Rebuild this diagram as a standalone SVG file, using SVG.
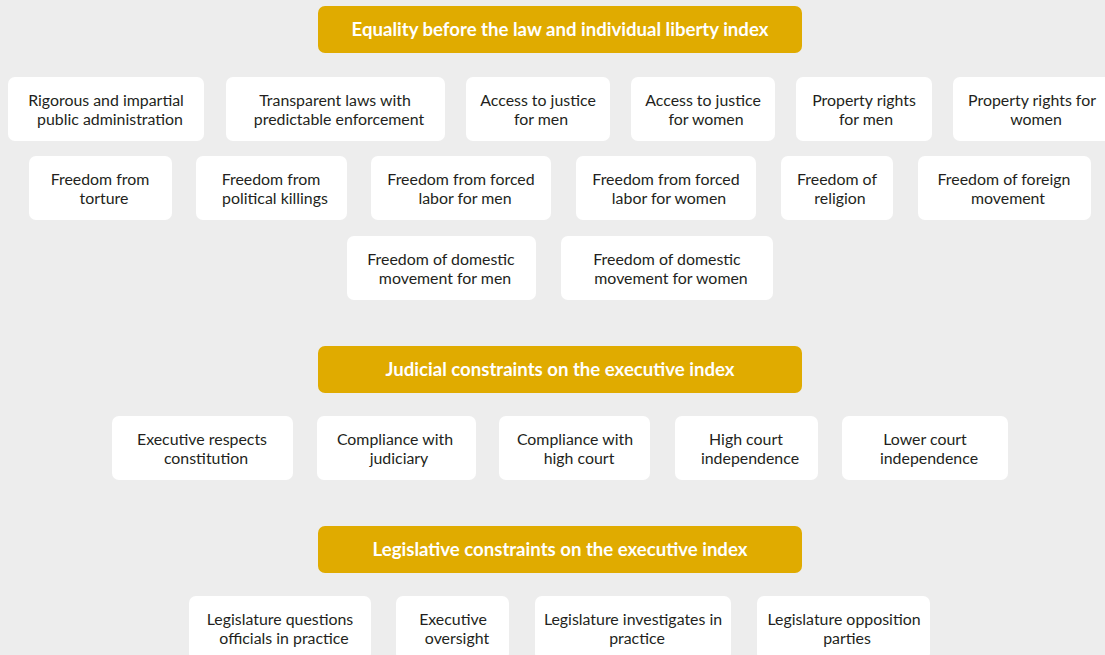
<svg xmlns="http://www.w3.org/2000/svg" width="1105" height="655" viewBox="0 0 1105 655">
<style>
.bg{fill:#ededed}
.hd rect{fill:#e0ab00}
.hd text{fill:#ffffff;font-family:Lato,"Open Sans","Liberation Sans",sans-serif;font-weight:bold;font-size:18.6px;text-anchor:middle}
.nd rect{fill:#ffffff}
.nd text{fill:#231f20;font-family:Lato,"Open Sans","Liberation Sans",sans-serif;font-size:15.9px;text-anchor:middle}
</style>
<rect class="bg" x="0" y="0" width="1105" height="655"/>
<g id="connectors"/>
<g id="h1" class="hd"><rect x="318" y="6" width="484" height="47" rx="7"/><text x="560" y="36">Equality before the law and individual liberty index</text></g>
<g id="h2" class="hd"><rect x="318" y="346" width="484" height="47" rx="7"/><text x="560" y="376">Judicial constraints on the executive index</text></g>
<g id="h3" class="hd"><rect x="318" y="526" width="484" height="47" rx="7"/><text x="560" y="556">Legislative constraints on the executive index</text></g>

<g id="n1" class="nd"><rect x="8" y="77" width="196" height="64" rx="7"/><text x="106" y="105.5">Rigorous and impartial</text><text x="110" y="124.5">public administration</text></g>
<g id="n2" class="nd"><rect x="226" y="77" width="219" height="64" rx="7"/><text x="335" y="105.5">Transparent laws with</text><text x="339" y="124.5">predictable enforcement</text></g>
<g id="n3" class="nd"><rect x="466" y="77" width="144" height="64" rx="7"/><text x="538" y="105.5">Access to justice</text><text x="541" y="124.5">for men</text></g>
<g id="n4" class="nd"><rect x="631" y="77" width="144" height="64" rx="7"/><text x="703" y="105.5">Access to justice</text><text x="706" y="124.5">for women</text></g>
<g id="n5" class="nd"><rect x="796" y="77" width="136" height="64" rx="7"/><text x="864" y="105.5">Property rights</text><text x="866" y="124.5">for men</text></g>
<g id="n6" class="nd"><rect x="953" y="77" width="166" height="64" rx="7"/><text x="1032" y="105.5">Property rights for</text><text x="1036" y="124.5">women</text></g>

<g id="n7" class="nd"><rect x="29" y="156" width="143" height="64" rx="7"/><text x="100" y="184.5">Freedom from</text><text x="104" y="203.5">torture</text></g>
<g id="n8" class="nd"><rect x="196" y="156" width="151" height="64" rx="7"/><text x="271" y="184.5">Freedom from</text><text x="275" y="203.5">political killings</text></g>
<g id="n9" class="nd"><rect x="371" y="156" width="180" height="64" rx="7"/><text x="461" y="184.5">Freedom from forced</text><text x="465" y="203.5">labor for men</text></g>
<g id="n10" class="nd"><rect x="576" y="156" width="180" height="64" rx="7"/><text x="666" y="184.5">Freedom from forced</text><text x="669" y="203.5">labor for women</text></g>
<g id="n11" class="nd"><rect x="781" y="156" width="112" height="64" rx="7"/><text x="837" y="184.5">Freedom of</text><text x="840" y="203.5">religion</text></g>
<g id="n12" class="nd"><rect x="918" y="156" width="173" height="64" rx="7"/><text x="1004" y="184.5">Freedom of foreign</text><text x="1008" y="203.5">movement</text></g>

<g id="n13" class="nd"><rect x="347" y="236" width="189" height="64" rx="7"/><text x="441" y="264.5">Freedom of domestic</text><text x="445" y="283.5">movement for men</text></g>
<g id="n14" class="nd"><rect x="561" y="236" width="212" height="64" rx="7"/><text x="667" y="264.5">Freedom of domestic</text><text x="671" y="283.5">movement for women</text></g>

<g id="n15" class="nd"><rect x="112" y="416" width="181" height="64" rx="7"/><text x="202" y="444.5">Executive respects</text><text x="206" y="463.5">constitution</text></g>
<g id="n16" class="nd"><rect x="317" y="416" width="159" height="64" rx="7"/><text x="395" y="444.5">Compliance with</text><text x="399" y="463.5">judiciary</text></g>
<g id="n17" class="nd"><rect x="499" y="416" width="151" height="64" rx="7"/><text x="575" y="444.5">Compliance with</text><text x="579" y="463.5">high court</text></g>
<g id="n18" class="nd"><rect x="675" y="416" width="143" height="64" rx="7"/><text x="746" y="444.5">High court</text><text x="750" y="463.5">independence</text></g>
<g id="n19" class="nd"><rect x="842" y="416" width="166" height="64" rx="7"/><text x="925" y="444.5">Lower court</text><text x="929" y="463.5">independence</text></g>

<g id="n20" class="nd"><rect x="189" y="596" width="182" height="64" rx="7"/><text x="280" y="624.5">Legislature questions</text><text x="284" y="643.5">officials in practice</text></g>
<g id="n21" class="nd"><rect x="396" y="596" width="113" height="64" rx="7"/><text x="453" y="624.5">Executive</text><text x="457" y="643.5">oversight</text></g>
<g id="n22" class="nd"><rect x="535" y="596" width="196" height="64" rx="7"/><text x="633" y="624.5">Legislature investigates in</text><text x="637" y="643.5">practice</text></g>
<g id="n23" class="nd"><rect x="757" y="596" width="173" height="64" rx="7"/><text x="844" y="624.5">Legislature opposition</text><text x="847" y="643.5">parties</text></g>
</svg>
